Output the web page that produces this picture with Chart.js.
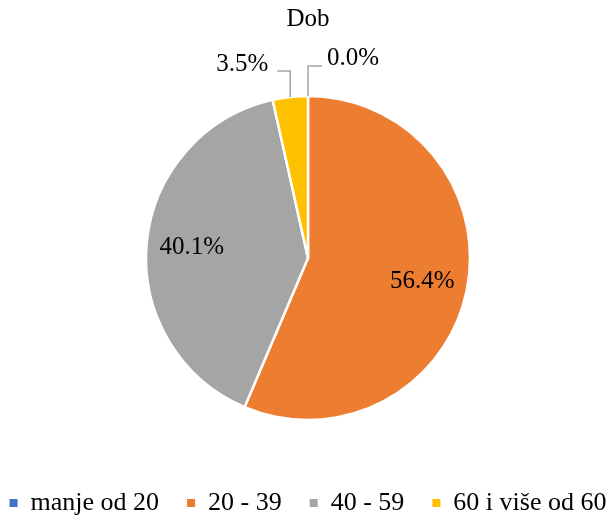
<!DOCTYPE html>
<html>
<head>
<meta charset="utf-8">
<script src="https://cdn.jsdelivr.net/npm/chart.js@4"></script>
<style>
  html, body { margin: 0; padding: 0; background: #fff; }
  #wrap { width: 616px; height: 516px; }
</style>
</head>
<body>
<div id="wrap"><canvas id="chart" width="616" height="516"></canvas></div>
<script>
var categories = ['manje od 20', '20 - 39', '40 - 59', '60 i više od 60'];
var percentages = [0.0, 56.4, 40.1, 3.5];
var sliceColors = ['#4472C4', '#ED7D31', '#A5A5A5', '#FFC000'];

var serif = "'Liberation Serif', 'Times New Roman', serif";

// labels: inside for big slices, outside with leader lines for small ones
var sliceLabels = {
    id: 'sliceLabels',
    afterDatasetsDraw: function(chart) {
        var ctx = chart.ctx;
        var meta = chart.getDatasetMeta(0);
        ctx.save();
        ctx.font = '25px ' + serif;
        ctx.fillStyle = '#000';
        meta.data.forEach(function(arc, i) {
            var v = percentages[i];
            var text = v.toFixed(1) + '%';
            var mid = (arc.startAngle + arc.endAngle) / 2;
            var r = arc.outerRadius;
            if (v > 10) {
                ctx.textAlign = 'center';
                ctx.textBaseline = 'middle';
                ctx.fillText(text, arc.x + Math.cos(mid) * r * 0.72, arc.y + Math.sin(mid) * r * 0.72);
            } else {
                var ex = arc.x + Math.cos(mid) * r;
                var ey = arc.y + Math.sin(mid) * r;
                var left = Math.cos(mid) < -0.01;
                var top = ey - (left ? 26 : 30);
                var hx = ex + (left ? -13 : 14);
                ctx.strokeStyle = '#A5A5A5';
                ctx.lineWidth = 1.5;
                ctx.beginPath();
                ctx.moveTo(ex, ey);
                ctx.lineTo(ex, top);
                ctx.lineTo(hx, top);
                ctx.stroke();
                ctx.textAlign = left ? 'right' : 'left';
                ctx.textBaseline = 'middle';
                ctx.fillText(text, hx + (left ? -9 : 5), top - (left ? 7 : 8));
            }
        });
        ctx.restore();
    }
};

new Chart(document.getElementById('chart'), {
    type: 'pie',
    data: {
        labels: categories,
        datasets: [{
            data: percentages,
            backgroundColor: sliceColors,
            borderColor: '#fff',
            borderWidth: 2.5,
            radius: 162
        }]
    },
    options: {
        responsive: false,
        animation: false,
        // negative side padding lets the legend stay on one row
        layout: { padding: { top: 0, bottom: -10, left: -40, right: -40 } },
        plugins: {
            title: {
                display: true,
                text: 'Dob',
                color: '#000',
                font: { family: serif, size: 25, weight: 'normal' },
                padding: { top: 4, bottom: 20 }
            },
            legend: {
                position: 'bottom',
                labels: {
                    color: '#000',
                    font: { family: serif, size: 26 },
                    boxWidth: 8,
                    boxHeight: 8,
                    padding: 28,
                    generateLabels: function(chart) {
                        var items = Chart.overrides.pie.plugins.legend.labels.generateLabels(chart);
                        items.forEach(function(it) {
                            it.lineWidth = 0;
                            it.strokeStyle = it.fillStyle;
                        });
                        return items;
                    }
                }
            },
            tooltip: { enabled: false }
        }
    },
    plugins: [sliceLabels]
});
</script>
</body>
</html>
